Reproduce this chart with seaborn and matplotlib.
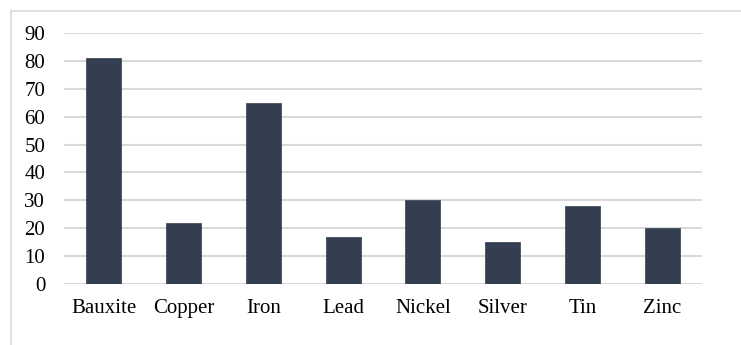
import matplotlib
matplotlib.use("Agg")
import matplotlib.pyplot as plt
from matplotlib.lines import Line2D
import seaborn as sns
import pandas as pd

minerals = ["Bauxite", "Copper", "Iron", "Lead", "Nickel", "Silver", "Tin", "Zinc"]
amounts = [81, 22, 65, 17, 30, 15, 28, 20]
y_ticks = [0, 10, 20, 30, 40, 50, 60, 70, 80, 90]

bar_color = "#333F50"
grid_color = "#D9D9D9"

sns.set_theme(style="white")
plt.rcParams["font.family"] = ["Liberation Serif", "DejaVu Serif"]

df = pd.DataFrame({"mineral": minerals, "amount": amounts})

fig = plt.figure(figsize=(7.41, 3.45), dpi=100)
ax = fig.add_axes([64 / 741, 61 / 345, 638 / 741, 251 / 345])

sns.barplot(data=df, x="mineral", y="amount", color=bar_color, width=0.44,
            saturation=1, edgecolor=bar_color, linewidth=0.5, ax=ax, zorder=3)

ax.set_ylim(0, 90)
ax.set_yticks(y_ticks)
ax.set_xlim(-0.5, len(minerals) - 0.5)
ax.set_xlabel("")
ax.set_ylabel("")
for v in y_ticks:
    ax.axhline(v, color=grid_color, linewidth=1.5, zorder=1)
for s in ax.spines.values():
    s.set_visible(False)
ax.tick_params(axis="both", length=0, labelsize=15, colors="black")
ax.tick_params(axis="y", pad=13.5)
ax.tick_params(axis="x", pad=11)

# chart frame (left and top edges)
fig.add_artist(Line2D([10.5 / 741, 10.5 / 741], [0, 1 - 10.5 / 345],
                      transform=fig.transFigure, color=grid_color, linewidth=1.2))
fig.add_artist(Line2D([10.5 / 741, 1], [1 - 10.5 / 345, 1 - 10.5 / 345],
                      transform=fig.transFigure, color=grid_color, linewidth=1.2))

fig.savefig("out.png", dpi=100)
